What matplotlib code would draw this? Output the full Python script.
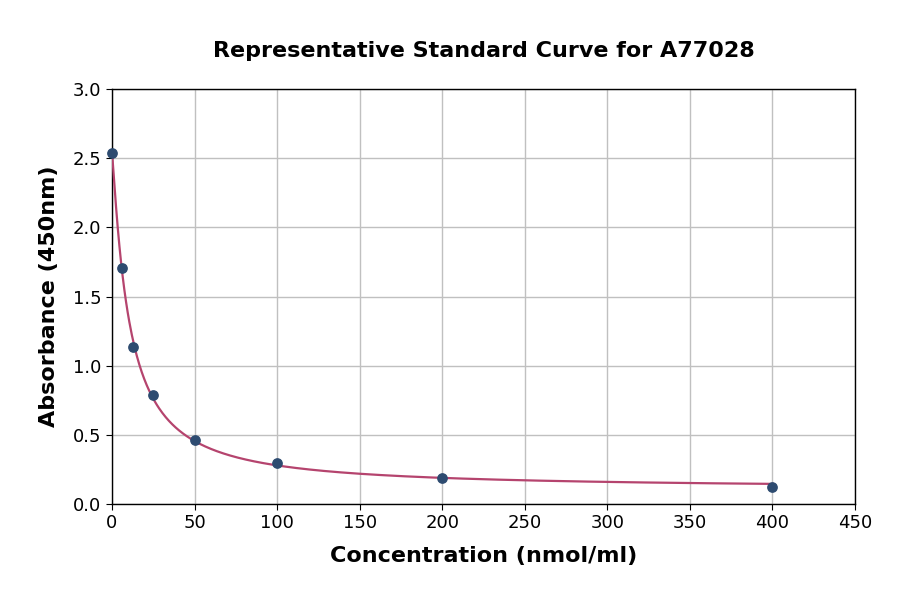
import numpy as np
import matplotlib
matplotlib.use("Agg")
import matplotlib.pyplot as plt

concentration = [0, 6.25, 12.5, 25, 50, 100, 200, 400]
absorbance = [2.54, 1.71, 1.135, 0.79, 0.463, 0.296, 0.188, 0.123]

x_ticks = [0, 50, 100, 150, 200, 250, 300, 350, 400, 450]
y_ticks = [0.0, 0.5, 1.0, 1.5, 2.0, 2.5, 3.0]

title = "Representative Standard Curve for A77028"
xlabel = "Concentration (nmol/ml)"
ylabel = "Absorbance (450nm)"

# 4-parameter logistic fit: y = d + (a - d) / (1 + (x/c)^b)
x = np.array(concentration, dtype=float)
y = np.array(absorbance, dtype=float)
best = None
for b in np.linspace(0.3, 3.0, 271):
    for c in np.exp(np.linspace(np.log(0.5), np.log(500), 400)):
        g = 1.0 / (1.0 + (x / c) ** b)
        A = np.column_stack([g, 1 - g])
        coef, *_ = np.linalg.lstsq(A, y, rcond=None)
        r = np.sum((A @ coef - y) ** 2)
        if best is None or r < best[0]:
            best = (r, b, c, coef[0], coef[1])
_, b, c, a, d = best
xs = np.linspace(0, max(concentration), 800)
ys = d + (a - d) / (1 + (xs / c) ** b)

fig = plt.figure(figsize=(9, 5.94), dpi=100)
ax = fig.add_axes([0.1244, 0.1515, 0.8256, 0.6985])
ax.plot(xs, ys, color="#b5446e", lw=1.6, zorder=3)
ax.scatter(concentration, absorbance, s=45, color="#2d4b70", zorder=4, clip_on=False)

ax.set_xlim(0, 450)
ax.set_ylim(0, 3.0)
ax.set_xticks(x_ticks)
ax.set_yticks(y_ticks)
ax.set_yticklabels([f"{v:.1f}" for v in y_ticks])
ax.grid(True, color="#c0c0c0", lw=1.0)
ax.set_axisbelow(True)
ax.tick_params(labelsize=13, length=4)
for s in ax.spines.values():
    s.set_linewidth(1.0)

ax.set_xlabel(xlabel, fontsize=16, fontweight="bold", labelpad=10)
ax.set_ylabel(ylabel, fontsize=16, fontweight="bold", labelpad=10)
ax.set_title(title, fontsize=16, fontweight="bold", pad=23)

fig.savefig("out.png", dpi=100)
